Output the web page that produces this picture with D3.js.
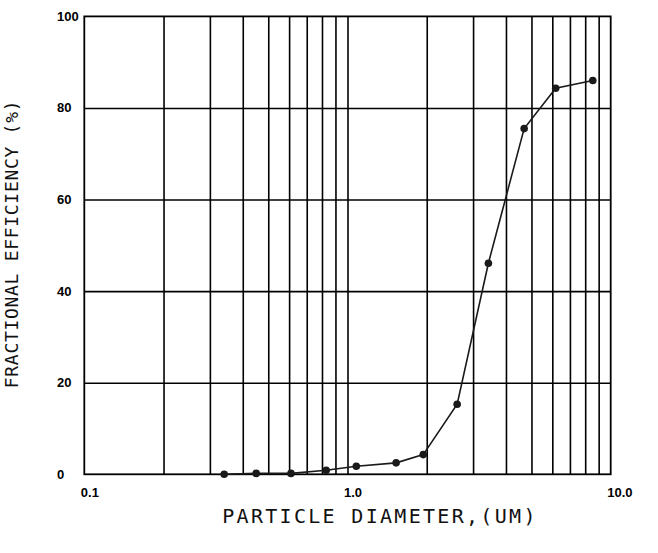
<!DOCTYPE html>
<html>
<head>
<meta charset="utf-8">
<script src="https://cdn.jsdelivr.net/npm/d3@7"></script>
<style>
  body { margin: 0; background: #fff; }
  svg { display: block; }
  .tick-lbl text { font-family: "Liberation Sans", Arial, sans-serif; font-weight: bold; font-size: 13px; fill: #000; }
  .title { font-family: "DejaVu Sans Mono", monospace; fill: #111; }
</style>
</head>
<body>
<svg id="chart" width="658" height="553"></svg>
<script>
// particle diameter (um) and fractional efficiency (%)
const diameter   = [0.34, 0.45, 0.61, 0.83, 1.08, 1.53, 1.94, 2.61, 3.43, 4.69, 6.18, 8.55];
const efficiency = [0.0, 0.2, 0.2, 0.9, 1.75, 2.5, 4.3, 15.3, 46.1, 75.5, 84.3, 86.0];

const xGrid = [0.2, 0.3, 0.4, 0.5, 0.6, 0.7, 0.8, 0.9, 1, 2, 3, 4, 5, 6, 7, 8, 9];
const xLabels = [0.1, 1, 10];
const xLabelText = ["0.1", "1.0", "10.0"];
const yGrid = [20, 40, 60, 80];
const yLabels = [0, 20, 40, 60, 80, 100];

const plotL = 84.3, plotR = 610.7, plotT = 16.4, plotB = 474.3;

const svg = d3.select("#chart");

const x = d3.scaleLog().domain([0.1, 10]).range([plotL, plotR]);
const y = d3.scaleLinear().domain([0, 100]).range([plotB, plotT]);

// vertical grid lines
svg.append("g")
    .attr("transform", "translate(0," + plotB + ")")
    .call(d3.axisBottom(x).tickValues(xGrid).tickSize(-(plotB - plotT)).tickFormat(""))
    .call(g => g.select(".domain").remove())
    .call(g => g.selectAll("line").attr("stroke", "#000").attr("stroke-width", 1.6));

// horizontal grid lines
svg.append("g")
    .attr("transform", "translate(" + plotL + ",0)")
    .call(d3.axisLeft(y).tickValues(yGrid).tickSize(-(plotR - plotL)).tickFormat(""))
    .call(g => g.select(".domain").remove())
    .call(g => g.selectAll("line").attr("stroke", "#000").attr("stroke-width", 1.6));

// frame
svg.append("rect")
    .attr("x", plotL).attr("y", plotT)
    .attr("width", plotR - plotL).attr("height", plotB - plotT)
    .attr("fill", "none").attr("stroke", "#000").attr("stroke-width", 1.8);

// x tick labels
svg.append("g")
    .attr("class", "tick-lbl")
    .attr("transform", "translate(0," + plotB + ")")
    .call(d3.axisBottom(x).tickValues(xLabels).tickSize(0).tickFormat((d, i) => xLabelText[i]))
    .call(g => g.select(".domain").remove())
    .call(g => g.selectAll("text")
        .attr("text-anchor", "start").attr("x", -4).attr("y", 23).attr("dy", 0));

// y tick labels
svg.append("g")
    .attr("class", "tick-lbl")
    .attr("transform", "translate(" + plotL + ",0)")
    .call(d3.axisLeft(y).tickValues(yLabels).tickSize(0))
    .call(g => g.select(".domain").remove())
    .call(g => g.selectAll("text")
        .attr("text-anchor", "start").attr("x", 57 - plotL).attr("dy", "0.3em"));

// efficiency curve
const pts = diameter.map((d, i) => [d, efficiency[i]]);
const line = d3.line().x(d => x(d[0])).y(d => y(d[1]));

svg.append("path")
    .datum(pts)
    .attr("d", line)
    .attr("fill", "none")
    .attr("stroke", "#1a1a1a")
    .attr("stroke-width", 1.6);

svg.selectAll(".pt")
    .data(pts)
    .enter().append("circle")
    .attr("class", "pt")
    .attr("cx", d => x(d[0]))
    .attr("cy", d => y(d[1]))
    .attr("r", 3.8)
    .attr("fill", "#1a1a1a");

// axis titles
svg.append("text")
    .attr("class", "title")
    .attr("x", 380).attr("y", 523)
    .attr("text-anchor", "middle")
    .attr("font-size", 20)
    .attr("letter-spacing", 2.3)
    .text("PARTICLE DIAMETER,(UM)");

svg.append("text")
    .attr("class", "title")
    .attr("transform", "translate(18,244) rotate(-90)")
    .attr("text-anchor", "middle")
    .attr("font-size", 18)
    .attr("letter-spacing", 0.7)
    .text("FRACTIONAL EFFICIENCY (%)");
</script>
</body>
</html>
